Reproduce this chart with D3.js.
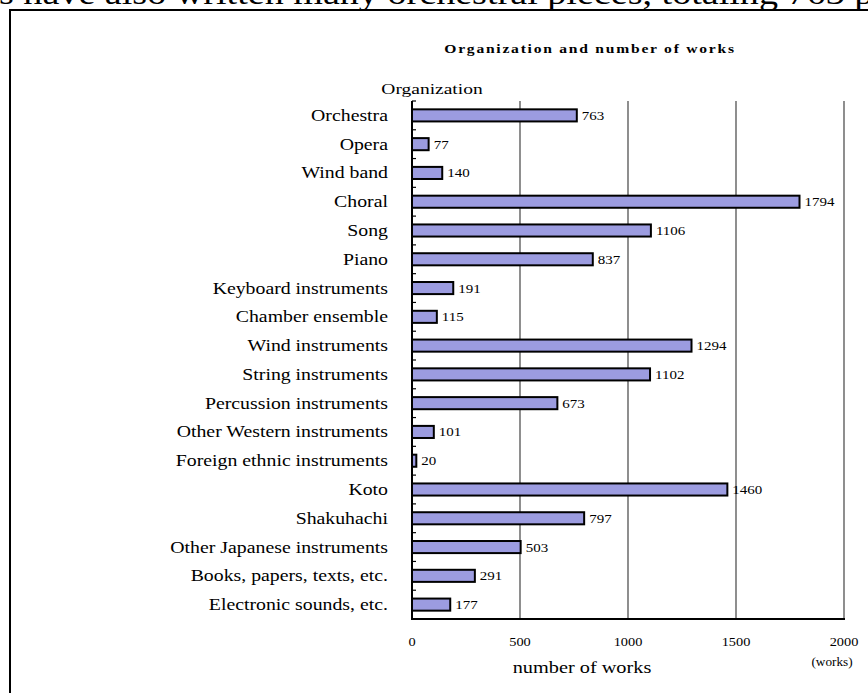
<!DOCTYPE html>
<html><head><meta charset="utf-8">
<script src="https://cdn.jsdelivr.net/npm/d3@7"></script>
<style>
html,body{margin:0;padding:0;background:#fff;}
svg{display:block;font-family:"Liberation Serif","Times New Roman",serif;}
</style></head>
<body>
<svg id="c" width="868" height="693"></svg>
<script>
const categories = ["Orchestra","Opera","Wind band","Choral","Song","Piano","Keyboard instruments","Chamber ensemble","Wind instruments","String instruments","Percussion instruments","Other Western instruments","Foreign ethnic instruments","Koto","Shakuhachi","Other Japanese instruments","Books, papers, texts, etc.","Electronic sounds, etc."];
const works = [763,77,140,1794,1106,837,191,115,1294,1102,673,101,20,1460,797,503,291,177];
const xTicks = [0,500,1000,1500,2000];
const chartTitle = "Organization and number of works";
const yTitle = "Organization";
const xTitle = "number of works";
const xUnit = "(works)";
const pageText = "s have also written many orchestral pieces, totaling 763 pieces";

const svg = d3.select("#c");
const L = 412, R = 844, T = 101, B = 619;
const x = d3.scaleLinear().domain([0,2000]).range([L,R]);
const y = d3.scaleBand().domain(categories).range([T,B]).paddingInner(0.58).paddingOuter(0.29);

function txt(g, px, py, s, size, sx, anchor){
  return g.append("text")
    .attr("transform",`translate(${px},${py}) scale(${sx},1)`)
    .attr("text-anchor",anchor||"start").attr("font-size",size).text(s);
}

// page text cut at top
txt(svg, -1, 4, pageText, 31, 1.23);
// outer frame
svg.append("rect").attr("x",10).attr("y",10).attr("width",900).attr("height",720)
  .attr("fill","none").attr("stroke","#000").attr("stroke-width",2);

// titles
txt(svg, 590, 53, chartTitle, 12.5, 1.25, "middle").attr("font-weight","bold").attr("letter-spacing",1.4);
txt(svg, 432, 94, yTitle, 15, 1.3, "middle");

// grid lines
svg.append("g").selectAll("line").data(xTicks.filter(d=>d>0)).join("line")
  .attr("x1",d=>x(d)).attr("x2",d=>x(d)).attr("y1",T).attr("y2",B)
  .attr("stroke","#444").attr("stroke-width",1.2);

// bars
svg.append("g").selectAll("rect").data(works).join("rect")
  .attr("x",x(0)).attr("y",(d,i)=>y(categories[i]))
  .attr("width",d=>x(d)-x(0)).attr("height",y.bandwidth())
  .attr("fill","#9c9ce0").attr("stroke","#000").attr("stroke-width",2);

// value labels
const vg = svg.append("g");
works.forEach((d,i)=>txt(vg, x(d)+5, y(categories[i])+y.bandwidth()/2+4.5, d, 12.5, 1.2));

// left axis with inner ticks at band boundaries
const bounds = d3.range(categories.length).map(i=>T+i*(B-T)/categories.length);
svg.append("g").selectAll("line").data(bounds).join("line")
  .attr("x1",L).attr("x2",L+4).attr("y1",d=>d).attr("y2",d=>d)
  .attr("stroke","#000").attr("stroke-width",1.2);
svg.append("line").attr("x1",L).attr("x2",L).attr("y1",T).attr("y2",B+1)
  .attr("stroke","#000").attr("stroke-width",2);
svg.append("line").attr("x1",L-1).attr("x2",R+1).attr("y1",B).attr("y2",B)
  .attr("stroke","#000").attr("stroke-width",2);

// category labels
const cg = svg.append("g");
categories.forEach(c=>txt(cg, 388, y(c)+y.bandwidth()/2+5.5, c, 16.5, 1.2, "end"));

// x tick labels
const tg = svg.append("g");
xTicks.forEach(t=>txt(tg, x(t), 646, t, 12.5, 1.15, "middle"));
txt(svg, 582, 673, xTitle, 16.5, 1.23, "middle");
txt(svg, 832, 666, xUnit, 11.5, 1.15, "middle");
</script>
</body></html>
